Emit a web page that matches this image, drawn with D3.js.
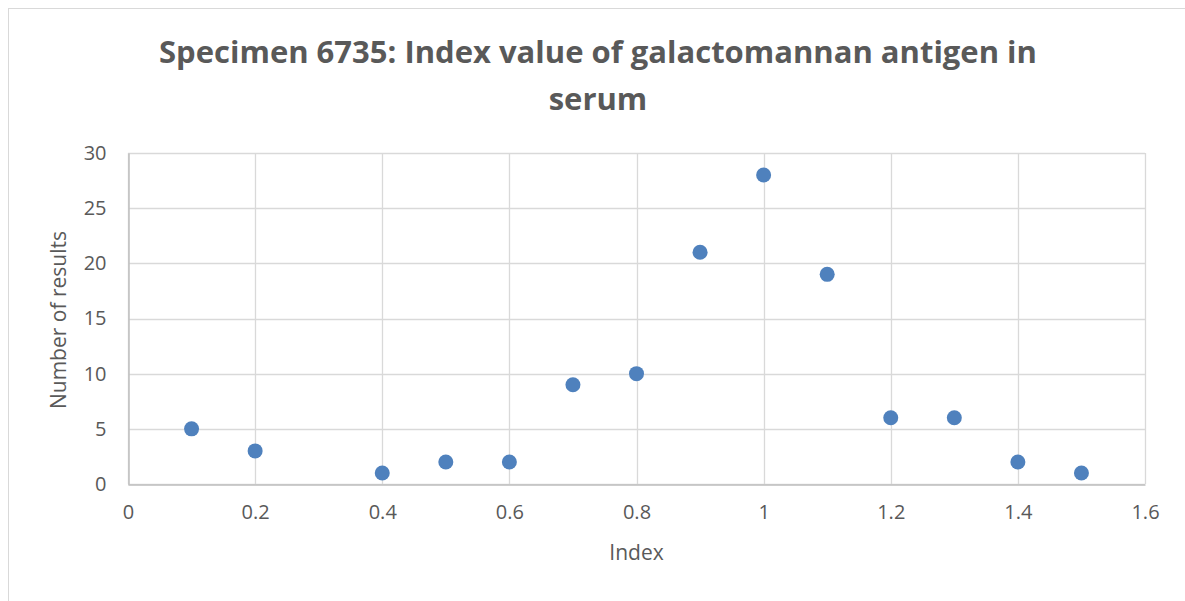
<!DOCTYPE html>
<html><head><meta charset="utf-8">
<script src="https://cdn.jsdelivr.net/npm/d3@7"></script>
<style>body{margin:0;background:#fff;overflow:hidden}svg{display:block}</style>
</head><body>
<script>
const indexValues = [0.1, 0.2, 0.4, 0.5, 0.6, 0.7, 0.8, 0.9, 1.0, 1.1, 1.2, 1.3, 1.4, 1.5];
const counts      = [5, 3, 1, 2, 2, 9, 10, 21, 28, 19, 6, 6, 2, 1];
const xTicks = [0, 0.2, 0.4, 0.6, 0.8, 1, 1.2, 1.4, 1.6];
const yTicks = [0, 5, 10, 15, 20, 25, 30];
const titleLines = ["Specimen 6735: Index value of galactomannan antigen in", "serum"];
const xTitle = "Index", yTitle = "Number of results";

const W = 1185, H = 601;
const m = {left: 128, right: 1145, top: 153, bottom: 484};
const font = "'Open Sans', sans-serif";
const svg = d3.select("body").append("svg").attr("width", W).attr("height", H);
svg.append("rect").attr("x", 8.5).attr("y", 8.5).attr("width", 1300).attr("height", 800)
  .attr("fill", "#fff").attr("stroke", "#d9d9d9");

const x = d3.scaleLinear().domain([0, 1.6]).range([m.left, m.right]);
const y = d3.scaleLinear().domain([0, 30]).range([m.bottom, m.top]);

// gridlines
svg.append("g").selectAll("line.v").data(xTicks).join("line")
  .attr("x1", d => Math.round(x(d)) + 0.5).attr("x2", d => Math.round(x(d)) + 0.5)
  .attr("y1", m.top).attr("y2", m.bottom).attr("stroke", "#d9d9d9").attr("stroke-width", 1.3);
svg.append("g").selectAll("line.h").data(yTicks).join("line")
  .attr("y1", d => Math.round(y(d)) + 0.5).attr("y2", d => Math.round(y(d)) + 0.5)
  .attr("x1", m.left).attr("x2", m.right).attr("stroke", "#d9d9d9").attr("stroke-width", 1.3);

// axes
const xAxis = svg.append("g").attr("transform", `translate(0,${Math.round(y(0)) + 0.5})`)
  .call(d3.axisBottom(x).tickValues(xTicks).tickSize(0).tickPadding(20).tickFormat(d => String(d)));
const yAxis = svg.append("g").attr("transform", `translate(${Math.round(x(0)) + 0.5},0)`)
  .call(d3.axisLeft(y).tickValues(yTicks).tickSize(0).tickPadding(22).tickFormat(d => String(d)));
[xAxis, yAxis].forEach(a => {
  a.select(".domain").attr("stroke", "#bfbfbf").attr("stroke-width", 1.5);
  a.selectAll("text").attr("fill", "#595959").style("font-family", font).style("font-size", "20px");
});

// points
svg.append("g").selectAll("circle").data(indexValues).join("circle")
  .attr("cx", (d) => x(d)).attr("cy", (d, i) => y(counts[i])).attr("r", 7.5)
  .attr("fill", "#4f81bd");

// title
svg.append("g").selectAll("text").data(titleLines).join("text")
  .attr("x", 598).attr("y", (d, i) => 63 + i * 47)
  .attr("text-anchor", "middle").attr("fill", "#595959")
  .style("font-family", font).style("font-size", "31px").style("font-weight", "bold")
  .text(d => d);

svg.append("text").attr("x", (m.left + m.right) / 2).attr("y", 560)
  .attr("text-anchor", "middle").attr("fill", "#595959")
  .style("font-family", font).style("font-size", "21px").text(xTitle);
svg.append("text").attr("transform", "translate(66,320) rotate(-90)")
  .attr("text-anchor", "middle").attr("fill", "#595959")
  .style("font-family", font).style("font-size", "21px").text(yTitle);
</script>
</body></html>
